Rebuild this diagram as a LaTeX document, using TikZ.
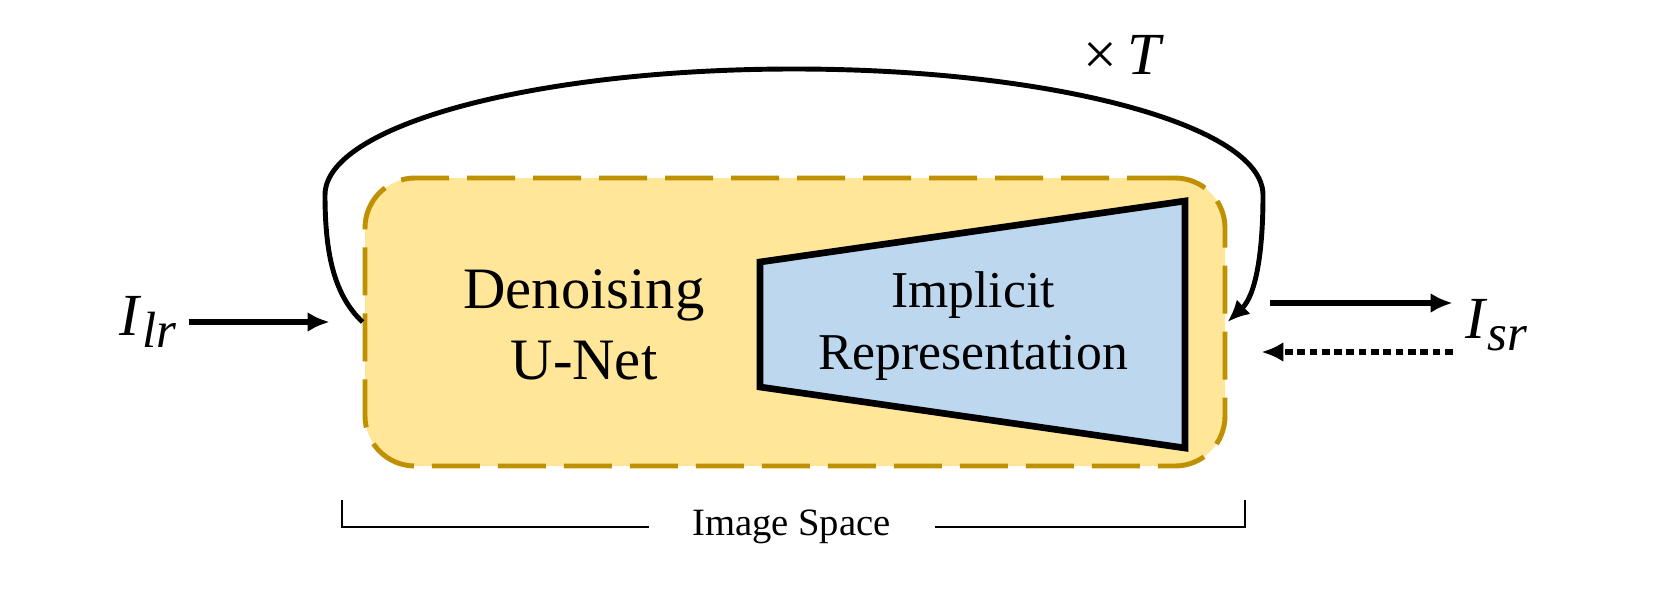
\documentclass[tikz,border=0pt]{standalone}
\usepackage{fontspec}
\setmainfont{LiberationSerif-Regular.ttf}[ItalicFont=LiberationSerif-Italic.ttf]
\usetikzlibrary{arrows.meta}
\definecolor{boxfill}{HTML}{FFE699}
\definecolor{boxline}{HTML}{BF9000}
\definecolor{inrfill}{HTML}{BDD7EE}

\begin{document}
\begin{tikzpicture}[>={Latex[length=0.22cm,width=0.2cm]},
  flow/.style={->,line width=1.6pt},
  dotflow/.style={->,line width=1.6pt,dash pattern=on 2.2pt off 1.3pt},
  bigtxt/.style={font=\fontsize{17}{20}\selectfont}]
  \useasboundingbox (0,0) rectangle (16.6,5.91);
  \node[draw=boxline,fill=boxfill,line width=1.4pt,dash pattern=on 0.48cm off 0.18cm,
    rounded corners=0.5cm,minimum width=8.6cm,minimum height=2.88cm] (unet) at (7.95,2.69) {};
  \draw[line width=1.9pt,fill=inrfill] (7.60,3.29)--(11.85,3.90)--(11.85,1.43)--(7.60,2.04)--cycle;
  \node[align=center,font=\fontsize{16.7}{20.2}\selectfont] (dn) at (5.84,2.66) {Denoising\\U-Net};
  \node[align=center,font=\fontsize{14.7}{17.4}\selectfont] (ir) at (9.73,2.65) {Implicit\\Representation};
  % inputs and outputs
  \node[bigtxt] (ilr) at (1.48,2.69) {\textit{I}\raisebox{-3.5pt}{\fontsize{14.5}{16}\selectfont\textit{lr}}};
  \node[bigtxt] (isr) at (14.96,2.66) {\textit{I}\raisebox{-3.5pt}{\fontsize{14.5}{16}\selectfont\textit{sr}}};
  \draw[flow] (ilr.east) -- ([xshift=-0.33cm]unet.west);
  \coordinate (outA) at ([xshift=0.43cm,yshift=0.19cm]unet.east);
  \coordinate (inB) at ([xshift=0.34cm,yshift=-0.30cm]unet.east);
  \draw[flow] (outA) -- (outA -| isr.west);
  \draw[dotflow] (inB -| isr.west) -- (inB);
  % loop over T steps
  \draw[->,line width=1.4pt] (unet.west) .. controls (3.35,2.95) and (3.25,3.35) .. (3.25,3.96)
    arc[start angle=180,end angle=0,x radius=4.69,y radius=1.26]
    .. controls (12.63,3.35) and (12.55,2.95) .. (unet.east);
  \node[bigtxt] (rep) at (11.24,5.36) {×\,\textit{T}};
  % image space bracket
  \node[font=\fontsize{11}{13}\selectfont,inner xsep=0.43cm] (isp) at (7.915,0.64) {Image Space};
  \draw[line width=0.6pt] (isp.west) -- (3.42,0.64) -- (3.42,0.91);
  \draw[line width=0.6pt] (isp.east) -- (12.45,0.64) -- (12.45,0.91);
\end{tikzpicture}
\end{document}
